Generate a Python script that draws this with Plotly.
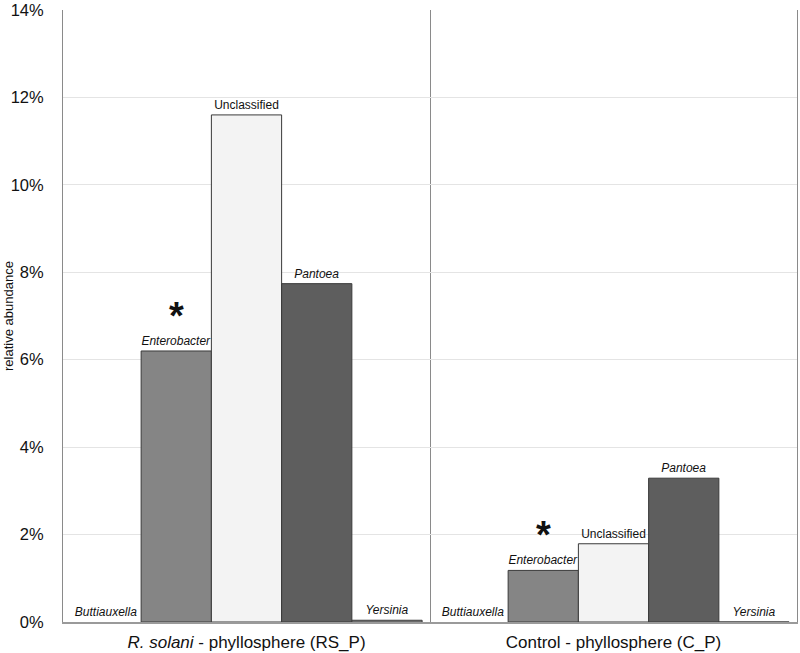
import plotly.graph_objects as go

# ---- data ----
groups = ["<i>R. solani</i> - phyllosphere (RS_P)", "Control - phyllosphere (C_P)"]
genera = ["Buttiauxella", "Enterobacter", "Unclassified", "Pantoea", "Yersinia"]
labels = ["<i>Buttiauxella</i>", "<i>Enterobacter</i>", "Unclassified", "<i>Pantoea</i>", "<i>Yersinia</i>"]
rs_p = [0.0, 6.2, 11.6, 7.74, 0.04]
c_p = [0.0, 1.18, 1.79, 3.29, 0.0]
significant = ["Enterobacter"]
y_ticks = [0, 2, 4, 6, 8, 10, 12, 14]
y_ticktext = ["0%", "2%", "4%", "6%", "8%", "10%", "12%", "14%"]

colors = ["#ffffff", "#858585", "#f3f3f3", "#5e5e5e", "#9a9a9a"]
FONT = "Liberation Sans, Arial, sans-serif"

W, H = 800, 653
ML, MR, MT, MB = 63, 3, 10, 31
BARGAP = 0.043

fig = go.Figure()
for g, lab, col, a, b in zip(genera, labels, colors, rs_p, c_p):
    fig.add_trace(go.Bar(
        name=g, x=groups, y=[a, b],
        marker=dict(color=col, line=dict(color="#3a3a3a", width=1 if g != "Buttiauxella" else 0)),
        text=[lab, lab], texttemplate="%{text}", textposition="outside",
        constraintext="none", cliponaxis=False,
        textfont=dict(family=FONT, size=12, color="#111"),
        hoverinfo="skip",
    ))

# asterisks for significant genera
plot_w = W - ML - MR
bar_px = plot_w / len(groups) * (1 - BARGAP) / len(genera)
annotations = []
for g in significant:
    i = genera.index(g)
    off = (i - (len(genera) - 1) / 2) * bar_px
    for grp, vals in zip(groups, [rs_p, c_p]):
        annotations.append(dict(
            x=grp, y=vals[i], xref="x", yref="y", text="<b>*</b>", showarrow=False,
            xshift=off, yshift=35, yanchor="middle",
            font=dict(family=FONT, size=38, color="#111"),
        ))

annotations.append(dict(
    x=0, y=0.5, xref="paper", yref="paper", text="relative abundance",
    textangle=-90, showarrow=False, xshift=-55, xanchor="center", yanchor="middle",
    font=dict(family=FONT, size=13, color="#111"),
))

fig.update_layout(
    width=W, height=H,
    margin=dict(l=ML, r=MR, t=MT, b=MB, autoexpand=False),
    paper_bgcolor="white", plot_bgcolor="white",
    barmode="group", bargap=BARGAP, bargroupgap=0,
    showlegend=False,
    font=dict(family=FONT, color="#111"),
    annotations=annotations,
)
fig.update_xaxes(
    type="category", tickson="boundaries", ticks="", showgrid=True,
    gridcolor="#8a8a8a", gridwidth=1,
    showline=True, linecolor="#9a9a9a", linewidth=2,
    tickfont=dict(family=FONT, size=17, color="#111"),
    ticklabelstandoff=4, automargin=False,
)
fig.update_yaxes(
    range=[0, 14], tickmode="array", tickvals=y_ticks, ticktext=y_ticktext,
    showgrid=True, gridcolor="#e4e4e4", gridwidth=1,
    showline=True, linecolor="#8a8a8a", linewidth=1, mirror=True,
    zeroline=False, ticks="",
    tickfont=dict(family=FONT, size=16.5, color="#111"),
    ticklabelstandoff=15, automargin=False,
)

fig.write_html(
    "out.html",
    config={"displayModeBar": False},
    post_script="document.body.style.margin='0';document.body.style.padding='0';",
)
